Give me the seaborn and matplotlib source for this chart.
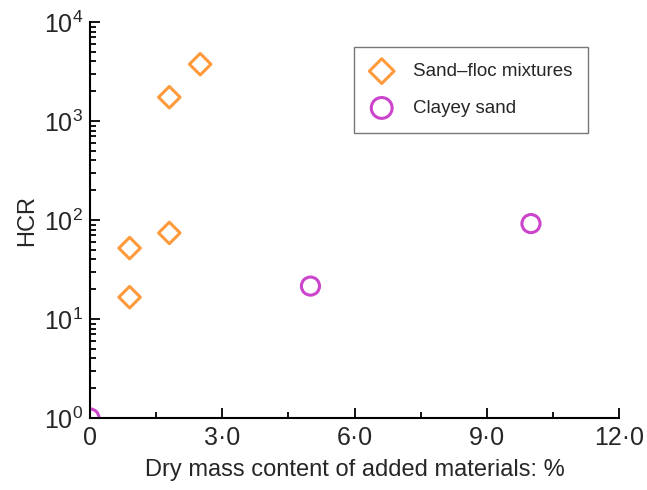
import numpy as np
import pandas as pd
import matplotlib
matplotlib.use('Agg')
import matplotlib.pyplot as plt
import matplotlib.ticker as mticker
import seaborn as sns

floc_x = [0.9, 0.9, 1.8, 1.8, 2.5]
floc_hcr = [16.6, 52, 74, 1740, 3750]
clay_x = [0.0, 5.0, 10.0]
clay_hcr = [1.0, 21.5, 92]
x_ticks = [0, 3, 6, 9, 12]
x_labels = ['0', '3·0', '6·0', '9·0', '12·0']

sns.set_style('ticks')
plt.rcParams['font.family'] = ['Liberation Sans', 'DejaVu Sans']

df = pd.concat([
    pd.DataFrame({'x': floc_x, 'HCR': floc_hcr, 'Material': 'Sand–floc mixtures'}),
    pd.DataFrame({'x': clay_x, 'HCR': clay_hcr, 'Material': 'Clayey sand'}),
])

fig, ax = plt.subplots(figsize=(6.47, 4.9), dpi=100)
fig.subplots_adjust(left=0.139, right=0.957, top=0.955, bottom=0.147)

colors = {'Sand–floc mixtures': '#FF9A3C', 'Clayey sand': '#CC44CC'}
markers = {'Sand–floc mixtures': 'D', 'Clayey sand': 'o'}
sizes = {'Sand–floc mixtures': 120, 'Clayey sand': 170}
for name, sub in df.groupby('Material', sort=False):
    sns.scatterplot(data=sub, x='x', y='HCR', ax=ax, marker=markers[name],
                    s=sizes[name], facecolor='none', edgecolor=colors[name],
                    linewidth=2.2, label=name, clip_on=True)

ax.set_yscale('log')
ax.set_ylim(1, 1e4)
ax.set_xlim(0, 12)
ax.set_xticks(x_ticks)
ax.set_xticklabels(x_labels)
ax.xaxis.set_minor_locator(mticker.MultipleLocator(1.5))
ax.yaxis.set_major_locator(mticker.LogLocator(base=10, numticks=10))
ax.yaxis.set_minor_locator(mticker.LogLocator(base=10, subs=np.arange(2, 10), numticks=20))
ax.tick_params(which='both', direction='in', labelsize=18, color='black', width=1.3)
ax.tick_params(which='major', length=7)
ax.tick_params(which='minor', length=4)
ax.tick_params(axis='x', pad=6)
ax.tick_params(axis='y', pad=5)
for s in ['left', 'bottom']:
    ax.spines[s].set_linewidth(1.5)
    ax.spines[s].set_color('black')
sns.despine(ax=ax)

ax.set_xlabel('Dry mass content of added materials: %', fontsize=17, labelpad=6)
ax.set_ylabel('HCR', fontsize=17, labelpad=4)

leg = ax.legend(loc='upper right', bbox_to_anchor=(0.941, 0.937), borderaxespad=0,
                fontsize=13.5, frameon=True, fancybox=False, edgecolor='#555555',
                borderpad=0.85, labelspacing=1.05, handlelength=1.3,
                handletextpad=1.0, markerscale=1.15)
leg.get_frame().set_linewidth(1.0)

plt.savefig('out.png', dpi=100)
